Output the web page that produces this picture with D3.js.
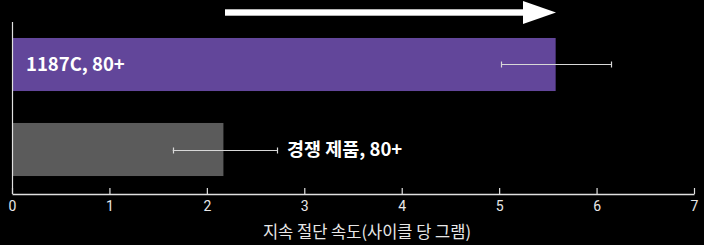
<!DOCTYPE html>
<html>
<head>
<meta charset="utf-8">
<script src="https://cdn.jsdelivr.net/npm/d3@7"></script>
<style>
  body { margin: 0; background: #000; }
  svg { display: block; }
</style>
</head>
<body>
<div id="chart"></div>
<script>
// chart values
var categories = ["1187C, 80+", "경쟁 제품, 80+"];
var values = [5.58, 2.17];
var errLow = [5.02, 1.65];
var errHigh = [6.15, 2.72];
var barColors = ["#62469a", "#5b5b5b"];
var tickValues = [0, 1, 2, 3, 4, 5, 6, 7];
var axisTitle = "지속 절단 속도(사이클 당 그램)";

var width = 704, height = 245;

var svg = d3.select("#chart").append("svg")
    .attr("width", width)
    .attr("height", height)
    .style("background", "#000");

var x = d3.scaleLinear().domain([0, 7]).range([12, 694]);
var y = d3.scaleBand().domain(categories).range([22, 192])
    .paddingInner(0.376).paddingOuter(0.188);

var rows = categories.map(function(c, i) {
    return { name: c, value: values[i], lo: errLow[i], hi: errHigh[i], color: barColors[i], i: i };
});

// bars
svg.selectAll("rect.bar")
    .data(rows)
    .enter().append("rect")
    .attr("class", "bar")
    .attr("x", x(0) + 1)
    .attr("y", function(d) { return y(d.name); })
    .attr("width", function(d) { return x(d.value) - x(0) - 1; })
    .attr("height", y.bandwidth())
    .attr("fill", function(d) { return d.color; });

// error bars
var eb = svg.selectAll("g.err")
    .data(rows)
    .enter().append("g")
    .attr("class", "err")
    .attr("transform", function(d) { return "translate(0," + (Math.round(y(d.name) + y.bandwidth() / 2) + 0.5) + ")"; });

eb.append("line")
    .attr("x1", function(d) { return x(d.lo); })
    .attr("x2", function(d) { return x(d.hi); })
    .attr("stroke", "#d8d8d8").attr("stroke-width", 1.2);
eb.each(function(d) {
    var g = d3.select(this);
    [d.lo, d.hi].forEach(function(v) {
        g.append("line")
            .attr("x1", Math.round(x(v)) + 0.5).attr("x2", Math.round(x(v)) + 0.5)
            .attr("y1", -3).attr("y2", 3)
            .attr("stroke", "#d8d8d8").attr("stroke-width", 1.2);
    });
});

// labels: first inside the bar, second after the error bar
svg.selectAll("text.lbl")
    .data(rows)
    .enter().append("text")
    .attr("class", "lbl")
    .attr("x", function(d) { return d.i === 0 ? x(0) + 14 : x(d.hi) + 10; })
    .attr("y", function(d) { return y(d.name) + y.bandwidth() / 2; })
    .attr("dy", "0.36em")
    .attr("fill", "#fff")
    .style("font-family", "'Noto Sans CJK KR', Inter, 'Noto Sans', sans-serif")
    .style("font-weight", "bold")
    .style("font-size", "18.5px")
    .text(function(d) { return d.name; });

// left axis line
svg.append("line")
    .attr("x1", x(0) + 0.5).attr("x2", x(0) + 0.5)
    .attr("y1", 22).attr("y2", 194)
    .attr("stroke", "#e0e0e0").attr("stroke-width", 1.2);

// x axis
var xAxis = svg.append("g")
    .attr("transform", "translate(0,194)")
    .call(d3.axisBottom(x).tickValues(tickValues).tickFormat(d3.format("d"))
        .tickSizeInner(-6).tickSizeOuter(0).tickPadding(7));
xAxis.select(".domain").attr("stroke", "#e0e0e0").attr("stroke-width", 1.5);
xAxis.selectAll(".tick line").attr("stroke", "#e0e0e0").attr("stroke-width", 1.2);
xAxis.selectAll(".tick text")
    .attr("fill", "#e8e8e8")
    .style("font-family", "'Liberation Sans Narrow', 'Roboto', sans-serif")
    .style("font-size", "14px");

// axis title
svg.append("text")
    .attr("x", 367)
    .attr("y", 238)
    .attr("text-anchor", "middle")
    .attr("fill", "#e8e8e8")
    .style("font-family", "'Noto Sans CJK KR', sans-serif")
    .style("font-size", "16.5px")
    .text(axisTitle);

// direction arrow
var arrowY = 12.5;
svg.append("rect")
    .attr("x", 225).attr("y", arrowY - 3.2)
    .attr("width", 523 - 225 + 1).attr("height", 6.4)
    .attr("fill", "#fff");
svg.append("path")
    .attr("d", "M523," + (arrowY - 11.5) + "L556," + arrowY + "L523," + (arrowY + 11.5) + "Z")
    .attr("fill", "#fff");
</script>
</body>
</html>
